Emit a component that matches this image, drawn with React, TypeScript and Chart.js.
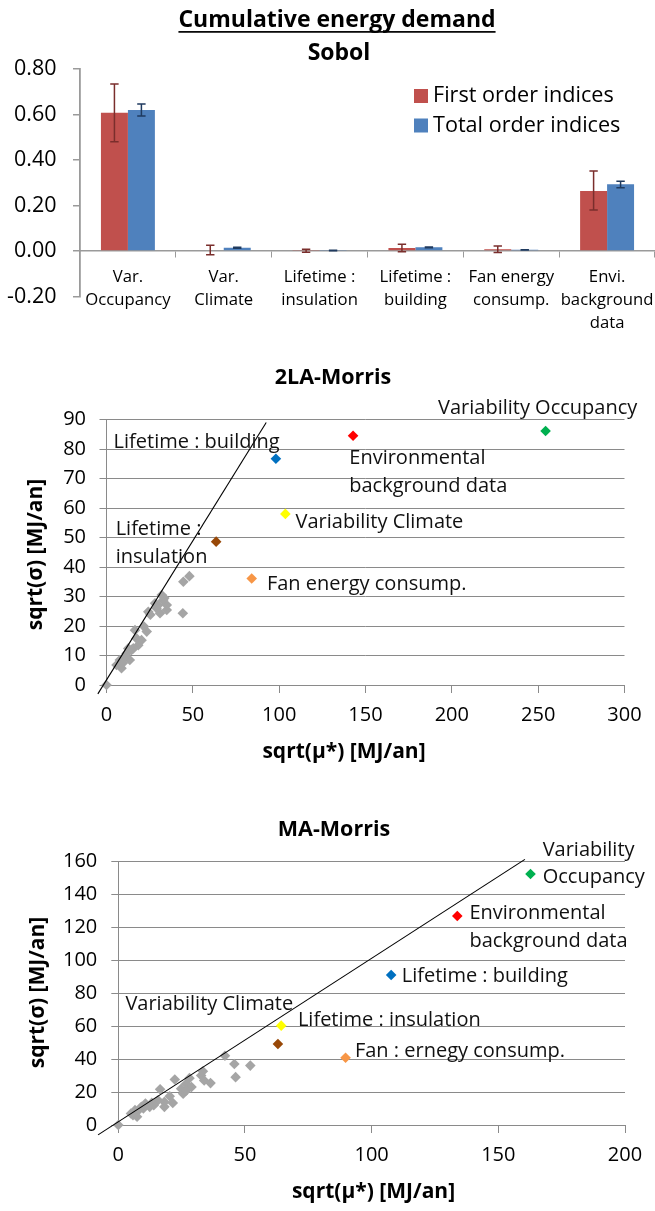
import React, { useEffect, useRef } from 'react';
import { Chart, registerables } from 'chart.js';

Chart.register(...registerables);

const FAMILY = '"Open Sans", "DejaVu Sans", sans-serif';
const GRID = '#8a8a8a';

// ===== Sobol indices (bar chart) =====
const sobolCategories: string[][] = [
  ['Var.', 'Occupancy'],
  ['Var.', 'Climate'],
  ['Lifetime :', 'insulation'],
  ['Lifetime :', 'building'],
  ['Fan energy', 'consump.'],
  ['Envi.', 'background', 'data'],
];
const sobolSeries = ['First order indices', 'Total order indices'];
const firstOrder = [0.608, 0.003, 0.002, 0.013, 0.008, 0.264];
const firstOrderLow = [0.48, -0.016, -0.006, -0.003, -0.007, 0.18];
const firstOrderHigh = [0.734, 0.025, 0.008, 0.03, 0.022, 0.352];
const totalOrder = [0.62, 0.0145, 0.002, 0.016, 0.005, 0.293];
const totalOrderLow = [0.593, 0.012, 0.001, 0.014, 0.004, 0.278];
const totalOrderHigh = [0.646, 0.017, 0.003, 0.018, 0.006, 0.307];
const sobolYTicks = [-0.2, 0, 0.2, 0.4, 0.6, 0.8];

// ===== 2LA-Morris =====
const la2Labels: string[][] = [
  ['Variability Occupancy'],
  ['Environmental', 'background data'],
  ['Lifetime : building'],
  ['Variability Climate'],
  ['Lifetime :', 'insulation'],
  ['Fan energy consump.'],
];
const la2MuStar = [254.3, 142.8, 98.1, 103.6, 63.5, 84.1];
const la2Sigma = [86.1, 84.5, 76.7, 58.0, 48.6, 36.1];
const la2OtherMu = [0, 48, 44.5, 44.2, 32.9, 30, 34.9, 24.2, 31, 23.3, 16.5, 17.4, 18.4, 15.5, 12.6, 11.6, 7.7, 5.8, 8.7, 13.5, 20.3, 28.1, 32, 34.9, 10.6, 21.7, 25.4, 29, 14.5, 9.5, 33.5];
const la2OtherSigma = [0, 36.9, 35, 24.3, 28.8, 27.1, 25.4, 24.8, 24.3, 18.1, 18.6, 15.8, 13.5, 12.4, 12.4, 10.7, 8.5, 6.8, 5.7, 8.5, 15.2, 27.7, 30.5, 27.1, 9.6, 19.8, 23.8, 26, 11.9, 7.5, 29.5];
const la2RefLineMu = [-5, 92.5];
const la2RefLineSigma = [-3, 89];
const la2XTicks = [0, 50, 100, 150, 200, 250, 300];
const la2YTicks = [0, 10, 20, 30, 40, 50, 60, 70, 80, 90];

// ===== MA-Morris =====
const maLabels: string[][] = [
  ['Variability', 'Occupancy'],
  ['Environmental', 'background data'],
  ['Lifetime : building'],
  ['Variability Climate'],
  ['Lifetime : insulation'],
  ['Fan : ernegy consump.'],
];
const maMuStar = [162.7, 133.8, 107.7, 64.3, 63.0, 89.7];
const maSigma = [152.1, 126.7, 90.9, 60.2, 49.1, 40.8];
const maOtherMu = [0, 42.1, 45.8, 52.1, 46.3, 33.4, 32.7, 36.4, 33.9, 28.1, 22.3, 26.8, 25.6, 24.8, 20.3, 16.5, 18.2, 15.7, 14, 10.7, 9.1, 7.4, 5.8, 7.4, 9.9, 12.4, 18.2, 28.9, 26.9, 21.5, 6.6, 5, 13.2];
const maOtherSigma = [0, 42, 37, 36, 29, 32.6, 30, 25.4, 27, 28.4, 27.6, 25, 19, 22, 17.4, 21.6, 14, 15, 12, 13, 11, 8, 6, 5, 10, 11, 11, 23, 21, 13.4, 9, 7, 13.4];
const maRefLineMu = [-8, 160.5];
const maRefLineSigma = [-6, 161];
const maXTicks = [0, 50, 100, 150, 200];
const maYTicks = [0, 20, 40, 60, 80, 100, 120, 140, 160];

// ===== styles / layout (not data) =====
const factorColors = ['#00B050', '#FF0000', '#0070C0', '#FFFF00', '#984807', '#F79646'];
const otherColor = '#A5A5A5';
const la2LabelAnchors = [
  { x: 192, y: 93.8 }, { x: 140.6, y: 76.8 }, { x: 4.1, y: 82.4 },
  { x: 109.5, y: 55.3 }, { x: 5.3, y: 52.7 }, { x: 92.9, y: 34.1 },
];
const maLabelAnchors = [
  { x: 167.5, y: 166.7 }, { x: 138.6, y: 128.3 }, { x: 111.9, y: 90.3 },
  { x: 2.8, y: 73.3 }, { x: 70.9, y: 63.6 }, { x: 93.4, y: 44.8 },
];

type TextItem = { text: string; x: number; y: number; size: number; bold?: boolean; rotate?: boolean; underline?: boolean };

function textPlugin(id: string, items: TextItem[]) {
  return {
    id,
    afterDraw(chart: any) {
      const ctx = chart.ctx as CanvasRenderingContext2D;
      for (const it of items) {
        ctx.save();
        ctx.font = `${it.bold ? 'bold ' : ''}${it.size}px ${FAMILY}`;
        ctx.fillStyle = '#000';
        ctx.textAlign = 'center';
        ctx.textBaseline = 'middle';
        ctx.translate(it.x, it.y);
        if (it.rotate) ctx.rotate(-Math.PI / 2);
        ctx.fillText(it.text, 0, 0);
        if (it.underline) {
          const w = ctx.measureText(it.text).width;
          ctx.fillRect(-w / 2, it.size * 0.48, w, 1.7);
        }
        ctx.restore();
      }
    },
  };
}

function errorBarPlugin(lows: number[][], highs: number[][], colors: string[]) {
  return {
    id: 'errorBars',
    afterDatasetsDraw(chart: any) {
      const ctx = chart.ctx as CanvasRenderingContext2D;
      const ys = chart.scales.y;
      ctx.save();
      chart.data.datasets.forEach((_ds: any, di: number) => {
        const meta = chart.getDatasetMeta(di);
        ctx.strokeStyle = colors[di];
        ctx.lineWidth = 1.5;
        meta.data.forEach((bar: any, j: number) => {
          const x = bar.x;
          const y1 = ys.getPixelForValue(lows[di][j]);
          const y2 = ys.getPixelForValue(highs[di][j]);
          ctx.beginPath();
          ctx.moveTo(x, y1);
          ctx.lineTo(x, y2);
          ctx.moveTo(x - 4.2, y1);
          ctx.lineTo(x + 4.2, y1);
          ctx.moveTo(x - 4.2, y2);
          ctx.lineTo(x + 4.2, y2);
          ctx.stroke();
        });
      });
      ctx.restore();
    },
  };
}

function boxLegendPlugin(left: number, firstY: number, step: number) {
  return {
    id: 'boxLegend',
    afterDraw(chart: any) {
      const ctx = chart.ctx as CanvasRenderingContext2D;
      ctx.save();
      ctx.font = `21.6px ${FAMILY}`;
      ctx.textAlign = 'left';
      ctx.textBaseline = 'middle';
      chart.data.datasets.forEach((ds: any, i: number) => {
        const cy = firstY + i * step;
        ctx.fillStyle = ds.backgroundColor;
        ctx.fillRect(left, cy - 7, 14, 14);
        ctx.fillStyle = '#000';
        ctx.fillText(ds.label, left + 19, cy);
      });
      ctx.restore();
    },
  };
}

function pointLabelPlugin(labels: string[][], anchors: { x: number; y: number }[]) {
  return {
    id: 'pointLabels',
    afterDraw(chart: any) {
      const ctx = chart.ctx as CanvasRenderingContext2D;
      const xs = chart.scales.x;
      const ys = chart.scales.y;
      ctx.save();
      ctx.font = `20px ${FAMILY}`;
      ctx.fillStyle = '#111';
      ctx.textAlign = 'left';
      ctx.textBaseline = 'middle';
      labels.forEach((lines, i) => {
        const px = xs.getPixelForValue(anchors[i].x);
        const py = ys.getPixelForValue(anchors[i].y);
        lines.forEach((t, k) => ctx.fillText(t, px, py + k * 27.7));
      });
      ctx.restore();
    },
  };
}

function zeroPad(s: any) {
  s.paddingLeft = 0;
  s.paddingRight = 0;
  s.paddingTop = 0;
  s.paddingBottom = 0;
}

function barConfig(): any {
  return {
    type: 'bar',
    data: {
      labels: sobolCategories,
      datasets: [
        { label: sobolSeries[0], data: firstOrder, backgroundColor: '#C0504D', borderWidth: 0, categoryPercentage: 0.563, barPercentage: 1 },
        { label: sobolSeries[1], data: totalOrder, backgroundColor: '#4F81BD', borderWidth: 0, categoryPercentage: 0.563, barPercentage: 1 },
      ],
    },
    options: {
      responsive: true,
      maintainAspectRatio: false,
      animation: false,
      layout: { padding: { left: 0, right: 0, top: 69, bottom: 43.5 } },
      plugins: { legend: { display: false }, title: { display: false }, tooltip: { enabled: false } },
      scales: {
        x: {
          type: 'category',
          position: { y: 0 },
          offset: true,
          grid: { display: true, drawOnChartArea: false, drawTicks: true, tickLength: 6, color: '#9a9a9a', offset: true },
          border: { display: true, color: '#9a9a9a', width: 1.5 },
          ticks: { font: { family: FAMILY, size: 16.7, lineHeight: 23 / 16.7 }, color: '#000', padding: 8.5, maxRotation: 0, autoSkip: false },
          afterFit: zeroPad,
        },
        y: {
          min: -0.2,
          max: 0.8,
          afterBuildTicks: (s: any) => { s.ticks = sobolYTicks.map((v) => ({ value: v })); },
          grid: { drawOnChartArea: false, drawTicks: true, tickLength: 7, color: '#9a9a9a', lineWidth: 1.5 },
          border: { display: true, color: '#9a9a9a', width: 1.8 },
          ticks: { font: { family: FAMILY, size: 21.5 }, color: '#000', padding: 16.5, callback: (v: any) => Number(v).toFixed(2) },
          afterFit: (s: any) => { s.width = 80; zeroPad(s); },
        },
      },
    },
    plugins: [
      errorBarPlugin([firstOrderLow, totalOrderLow], [firstOrderHigh, totalOrderHigh], ['#7A2E2C', '#1F3A5F']),
      boxLegendPlugin(414, 96, 29.5),
      textPlugin('barTitles', [
        { text: 'Cumulative energy demand', x: 337, y: 20, size: 23, bold: true, underline: true },
        { text: 'Sobol', x: 339, y: 53, size: 23, bold: true },
      ]),
    ],
  };
}

type MorrisSpec = {
  mu: number[]; sigma: number[]; otherMu: number[]; otherSigma: number[];
  lineMu: number[]; lineSigma: number[]; xTicks: number[]; yTicks: number[];
  labels: string[][]; anchors: { x: number; y: number }[];
  areaLeft: number; areaRight: number; areaTop: number; axisHeight: number; yTickPad: number;
  texts: TextItem[]; id: string;
};

function morrisConfig(p: MorrisSpec): any {
  return {
    type: 'scatter',
    data: {
      datasets: [
        {
          label: 'factors',
          data: p.mu.map((x, i) => ({ x, y: p.sigma[i] })),
          pointStyle: 'rectRot',
          pointRadius: 5.3,
          pointBackgroundColor: factorColors,
          pointBorderColor: factorColors,
          pointBorderWidth: 0,
          clip: false,
        },
        {
          type: 'line',
          label: 'ref',
          data: p.lineMu.map((x, i) => ({ x, y: p.lineSigma[i] })),
          borderColor: '#000',
          borderWidth: 1.1,
          pointRadius: 0,
          fill: false,
          clip: false,
        },
        {
          label: 'others',
          data: p.otherMu.map((x, i) => ({ x, y: p.otherSigma[i] })),
          pointStyle: 'rectRot',
          pointRadius: 5.3,
          pointBackgroundColor: otherColor,
          pointBorderColor: otherColor,
          pointBorderWidth: 0,
          clip: false,
        },
      ],
    },
    options: {
      responsive: true,
      maintainAspectRatio: false,
      animation: false,
      layout: { padding: { left: 0, right: 655 - p.areaRight, top: p.areaTop, bottom: 0 } },
      plugins: { legend: { display: false }, title: { display: false }, tooltip: { enabled: false } },
      scales: {
        x: {
          type: 'linear',
          min: p.xTicks[0],
          max: p.xTicks[p.xTicks.length - 1],
          afterBuildTicks: (s: any) => { s.ticks = p.xTicks.map((v) => ({ value: v })); },
          grid: { drawOnChartArea: false, drawTicks: true, tickLength: 8, color: GRID },
          border: { display: true, color: GRID },
          ticks: { font: { family: FAMILY, size: 20 }, color: '#000', padding: 10, maxRotation: 0 },
          afterFit: (s: any) => { s.height = p.axisHeight; zeroPad(s); },
        },
        y: {
          type: 'linear',
          min: p.yTicks[0],
          max: p.yTicks[p.yTicks.length - 1],
          afterBuildTicks: (s: any) => { s.ticks = p.yTicks.map((v) => ({ value: v })); },
          grid: { drawOnChartArea: true, drawTicks: true, tickLength: 7, color: GRID },
          border: { display: true, color: GRID },
          ticks: { font: { family: FAMILY, size: 20 }, color: '#000', padding: p.yTickPad },
          afterFit: (s: any) => { s.width = p.areaLeft; zeroPad(s); },
        },
      },
    },
    plugins: [pointLabelPlugin(p.labels, p.anchors), textPlugin(p.id, p.texts)],
  };
}

function ChartBox({ make, top, height }: { make: () => any; top: number; height: number }) {
  const ref = useRef<HTMLCanvasElement>(null);
  useEffect(() => {
    const chart = new Chart(ref.current as HTMLCanvasElement, make());
    return () => chart.destroy();
  }, []);
  return (
    <div style={{ position: 'absolute', left: 0, top, width: 655, height }}>
      <canvas ref={ref} />
    </div>
  );
}

export default function App() {
  return (
    <div style={{ position: 'absolute', left: 0, top: 0, width: 655, height: 1211, background: '#fff', overflow: 'hidden' }}>
      <ChartBox top={0} height={340} make={barConfig} />
      <ChartBox
        top={340}
        height={450}
        make={() =>
          morrisConfig({
            mu: la2MuStar, sigma: la2Sigma, otherMu: la2OtherMu, otherSigma: la2OtherSigma,
            lineMu: la2RefLineMu, lineSigma: la2RefLineSigma, xTicks: la2XTicks, yTicks: la2YTicks,
            labels: la2Labels, anchors: la2LabelAnchors,
            areaLeft: 106.5, areaRight: 624.5, areaTop: 79.5, axisHeight: 105, yTickPad: 13.5,
            id: 'la2Texts',
            texts: [
              { text: '2LA-Morris', x: 333, y: 38, size: 21.5, bold: true },
              { text: 'sqrt(µ*) [MJ/an]', x: 344, y: 412, size: 21, bold: true },
              { text: 'sqrt(σ) [MJ/an]', x: 35.6, y: 214.5, size: 21, bold: true, rotate: true },
            ],
          })
        }
      />
      <ChartBox
        top={790}
        height={421}
        make={() =>
          morrisConfig({
            mu: maMuStar, sigma: maSigma, otherMu: maOtherMu, otherSigma: maOtherSigma,
            lineMu: maRefLineMu, lineSigma: maRefLineSigma, xTicks: maXTicks, yTicks: maYTicks,
            labels: maLabels, anchors: maLabelAnchors,
            areaLeft: 118.3, areaRight: 625, areaTop: 71, axisHeight: 86, yTickPad: 14,
            id: 'maTexts',
            texts: [
              { text: 'MA-Morris', x: 334, y: 40, size: 21.5, bold: true },
              { text: 'sqrt(µ*) [MJ/an]', x: 373.5, y: 401.7, size: 21, bold: true },
              { text: 'sqrt(σ) [MJ/an]', x: 37.7, y: 202.5, size: 21, bold: true, rotate: true },
            ],
          })
        }
      />
    </div>
  );
}
